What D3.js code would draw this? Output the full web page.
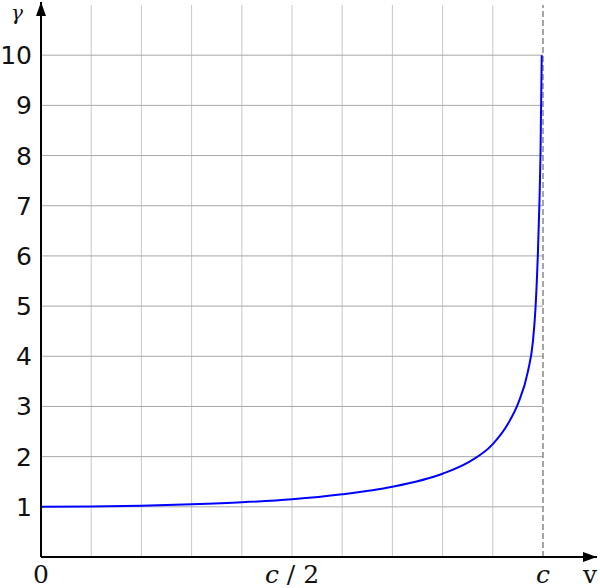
<!DOCTYPE html>
<html>
<head>
<meta charset="utf-8">
<script src="https://cdn.jsdelivr.net/npm/d3@7"></script>
<style>
  body { margin: 0; background: #fff; }
  .ytick { font-family: "DejaVu Sans", sans-serif; font-size: 25px; fill: #111; }
  .xtick { font-family: "DejaVu Serif", serif; font-size: 25px; fill: #111; }
</style>
</head>
<body>
<div class="chart"></div>
<script>
// speed as fraction of c, and Lorentz factor
var speeds = [0, 0.1, 0.2, 0.3, 0.4, 0.5, 0.6, 0.7, 0.8, 0.85, 0.9, 0.93, 0.95, 0.97, 0.98, 0.985, 0.99, 0.993, 0.995, 0.9975];
var gammas = [1.00, 1.005, 1.02, 1.05, 1.09, 1.15, 1.25, 1.40, 1.66, 1.88, 2.25, 2.65, 3.05, 3.7, 4.3, 4.95, 6.1, 7.1, 8.0, 10.0];
var yTicks = [1, 2, 3, 4, 5, 6, 7, 8, 9, 10];
var xGrid = [0.1, 0.2, 0.3, 0.4, 0.5, 0.6, 0.7, 0.8, 0.9];
var xLabels = [{ v: 0, t: "0" }, { v: 0.5, t: "c / 2" }, { v: 1, t: "c" }];

var width = 600;
var height = 588;

var svg = d3
  .select(".chart")
  .append("svg")
  .attr("width", width)
  .attr("height", height);

var x = d3.scaleLinear().domain([0, 1]).range([41, 543]);
var y = d3.scaleLinear().domain([0, 11]).range([557, 5]);

// grid
svg
  .append("g")
  .selectAll("line")
  .data(xGrid)
  .enter()
  .append("line")
  .attr("x1", (d) => x(d))
  .attr("x2", (d) => x(d))
  .attr("y1", y(0))
  .attr("y2", y(11))
  .attr("stroke", "#c8c8c8")
  .attr("stroke-width", 1);

svg
  .append("g")
  .selectAll("line")
  .data(yTicks)
  .enter()
  .append("line")
  .attr("x1", x(0))
  .attr("x2", x(1))
  .attr("y1", (d) => y(d))
  .attr("y2", (d) => y(d))
  .attr("stroke", "#a8a8a8")
  .attr("stroke-width", 1);

// asymptote at v = c
svg
  .append("line")
  .attr("x1", x(1))
  .attr("x2", x(1))
  .attr("y1", y(0))
  .attr("y2", y(11))
  .attr("stroke", "#777")
  .attr("stroke-width", 1.3)
  .attr("stroke-dasharray", "6,3");

// curve
var points = speeds.map((v, i) => [v, gammas[i]]);
var line = d3
  .line()
  .x((d) => x(d[0]))
  .y((d) => y(d[1]))
  .curve(d3.curveMonotoneX);

svg
  .append("path")
  .datum(points)
  .attr("d", line)
  .attr("fill", "none")
  .attr("stroke", "#0000ff")
  .attr("stroke-width", 2);

// axes with arrows
svg
  .append("defs")
  .append("marker")
  .attr("id", "arrow")
  .attr("viewBox", "0 0 14 10")
  .attr("refX", 14)
  .attr("refY", 5)
  .attr("markerWidth", 14)
  .attr("markerHeight", 10)
  .attr("markerUnits", "userSpaceOnUse")
  .attr("orient", "auto")
  .append("path")
  .attr("d", "M0,0 L14,5 L0,10 Z")
  .attr("fill", "#000");

svg
  .append("line")
  .attr("x1", x(0))
  .attr("x2", 597)
  .attr("y1", y(0))
  .attr("y2", y(0))
  .attr("stroke", "#000")
  .attr("stroke-width", 2)
  .attr("marker-end", "url(#arrow)");

svg
  .append("line")
  .attr("x1", x(0))
  .attr("x2", x(0))
  .attr("y1", y(0))
  .attr("y2", 2)
  .attr("stroke", "#000")
  .attr("stroke-width", 2)
  .attr("marker-end", "url(#arrow)");

// tick labels
svg
  .append("g")
  .selectAll("text")
  .data(yTicks)
  .enter()
  .append("text")
  .attr("class", "ytick")
  .attr("x", 32)
  .attr("y", (d) => y(d))
  .attr("dy", "0.36em")
  .attr("text-anchor", "end")
  .text((d) => d);

var xt = svg
  .append("g")
  .selectAll("text")
  .data(xLabels)
  .enter()
  .append("text")
  .attr("class", "xtick")
  .attr("x", (d) => x(d.v))
  .attr("y", 583)
  .attr("text-anchor", "middle");

xt.each(function (d) {
  var el = d3.select(this);
  if (d.t === "0") {
    el.text("0");
  } else if (d.t === "c") {
    el.append("tspan").style("font-style", "italic").text("c");
  } else {
    el.append("tspan").style("font-style", "italic").text("c");
    el.append("tspan").text(" / 2");
  }
});

// axis names
svg
  .append("text")
  .attr("class", "xtick")
  .attr("x", 590)
  .attr("y", 583)
  .attr("text-anchor", "middle")
  .text("v");

svg
  .append("text")
  .attr("class", "xtick")
  .attr("x", 17)
  .attr("y", 20)
  .attr("text-anchor", "middle")
  .style("font-style", "italic")
  .style("font-size", "20px")
  .text("γ");
</script>
</body>
</html>
